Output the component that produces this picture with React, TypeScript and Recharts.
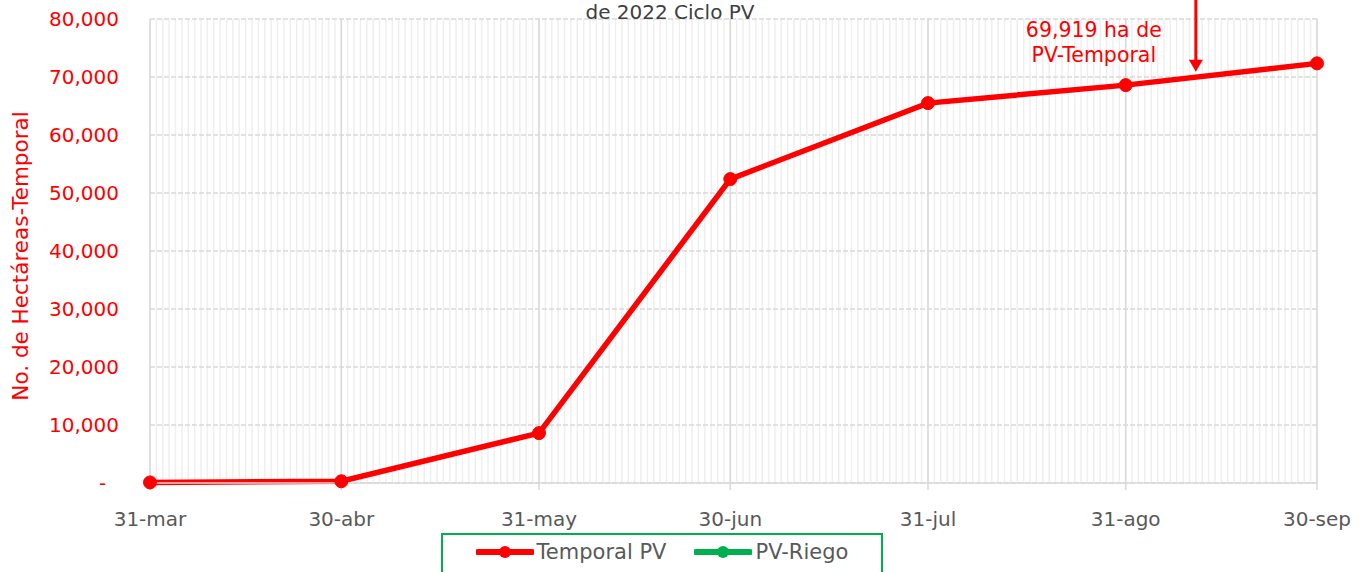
import {
    LineChart,
    Line,
    XAxis,
    YAxis,
    CartesianGrid,
    Legend,
    ReferenceLine,
} from 'recharts';

// días desde el 31-mar
const days = [0, 30, 61, 91, 122, 153, 183];
const dayLabels = ['31-mar', '30-abr', '31-may', '30-jun', '31-jul', '31-ago', '30-sep'];
const temporalPV = [100, 300, 8600, 52400, 65500, 68600, 72350];
const riegoPV: (number | null)[] = [null, null, null, null, null, null, null];
const seriesNames = ['Temporal PV', 'PV-Riego'];
const yTicks = [0, 10000, 20000, 30000, 40000, 50000, 60000, 70000, 80000];

const arrowDay = 164;
const arrowTop = 83300;
const arrowTip = 70900;

const FONT = '"DejaVu Sans", sans-serif';
const RED = '#ff0000';
const GREEN = '#00b050';
const GRAY_TEXT = '#595959';

document.body.style.margin = '0';

const chartData = days.map((d, i) => ({
    day: d,
    temporal: temporalPV[i],
    riego: riegoPV[i],
}));

const minorDays = Array.from({length: days[days.length - 1] + 1}, (_, i) => i);

const labelFor = (v: number) => {
    const idx = days.indexOf(v);
    return idx >= 0 ? dayLabels[idx] : '';
};

const fmtY = (v: number) => (v === 0 ? '-\u00a0\u00a0' : v.toLocaleString('en-US'));

interface ArrowProps {
    x1?: number;
    y1?: number;
    x2?: number;
    y2?: number;
}

const ArrowShape = ({x1 = 0, y1 = 0, y2 = 0}: ArrowProps) => {
    const top = Math.max(Math.min(y1, y2), 0);
    const tip = Math.max(y1, y2);
    const x = x1;
    return (
        <g>
            <line x1={x} y1={top} x2={x} y2={tip - 8} stroke={RED} strokeWidth={3}/>
            <polygon points={`${x - 7},${tip - 12} ${x + 7},${tip - 12} ${x},${tip}`} fill={RED}/>
            <text x={x - 102} y={37} textAnchor="middle" fill={RED} fontSize={20.5} fontFamily={FONT}>
                69,919 ha de
            </text>
            <text x={x - 102} y={62} textAnchor="middle" fill={RED} fontSize={20.5} fontFamily={FONT}>
                PV-Temporal
            </text>
        </g>
    );
};

interface LegendItem {
    value?: string;
    color?: string;
}

const LegendBox = ({payload}: { payload?: LegendItem[] }) => {
    const items = [...(payload ?? [])].sort(
        (a, b) => seriesNames.indexOf(a.value ?? '') - seriesNames.indexOf(b.value ?? '')
    );
    return (
        <div style={{height: 39, overflow: 'hidden'}}>
            <div
                style={{
                    width: 438,
                    height: 50,
                    border: `2px solid ${GREEN}`,
                    boxSizing: 'content-box',
                    display: 'flex',
                    alignItems: 'flex-start',
                    justifyContent: 'center',
                    gap: 28,
                    paddingTop: 5,
                    fontFamily: FONT,
                    fontSize: 21,
                    color: GRAY_TEXT,
                }}
            >
                {items.map((p) => (
                    <div key={p.value} style={{display: 'flex', alignItems: 'center'}}>
                        <svg width={58} height={14} style={{marginRight: 3}}>
                            <line x1={2} y1={7} x2={56} y2={7} stroke={p.color} strokeWidth={6} strokeLinecap="round"/>
                            <circle cx={29} cy={7} r={6} fill={p.color}/>
                        </svg>
                        <span>{p.value}</span>
                    </div>
                ))}
            </div>
        </div>
    );
};

export default function App() {
    return (
        <div style={{width: 1365, height: 572, position: 'relative', background: '#fff'}}>
            <div
                style={{
                    position: 'absolute',
                    left: 0,
                    width: 1340,
                    top: 0,
                    textAlign: 'center',
                    fontFamily: FONT,
                    fontSize: 20,
                    color: '#404040',
                    zIndex: 2,
                }}
            >
                de 2022 Ciclo PV
            </div>
            <LineChart
                width={1365}
                height={572}
                data={chartData}
                margin={{top: 19, right: 48, left: 0, bottom: 0}}
            >
                <CartesianGrid
                    horizontal={false}
                    verticalValues={minorDays}
                    stroke="#efefef"
                    strokeWidth={1.5}
                />
                <CartesianGrid
                    vertical={false}
                    horizontalValues={yTicks}
                    stroke="#d9d9d9"
                    strokeDasharray="5 2"
                    strokeWidth={1.5}
                />
                <CartesianGrid
                    horizontal={false}
                    verticalValues={days}
                    stroke="#d9d9d9"
                    strokeWidth={1.5}
                />
                <XAxis
                    dataKey="day"
                    type="number"
                    domain={[0, days[days.length - 1]]}
                    ticks={days}
                    tickFormatter={labelFor}
                    height={50}
                    axisLine={{stroke: '#d9d9d9', strokeWidth: 1.5}}
                    tickLine={{stroke: '#d9d9d9', strokeWidth: 1.5}}
                    tickSize={7}
                    tickMargin={22}
                    tick={{fontSize: 20, fill: GRAY_TEXT, fontFamily: FONT}}
                    interval={0}
                />
                <YAxis
                    type="number"
                    domain={[0, 80000]}
                    ticks={yTicks}
                    tickFormatter={fmtY}
                    width={150}
                    axisLine={false}
                    tickLine={false}
                    tickSize={6}
                    tickMargin={25}
                    tick={{fontSize: 20, fill: RED, fontFamily: FONT}}
                    interval={0}
                    label={{
                        value: 'No. de Hectáreas-Temporal',
                        angle: -90,
                        position: 'center',
                        dx: -55,
                        dy: 5,
                        fill: RED,
                        fontSize: 21.5,
                        fontFamily: FONT,
                    }}
                />
                <ReferenceLine
                    segment={[{x: arrowDay, y: arrowTop}, {x: arrowDay, y: arrowTip}]}
                    ifOverflow="visible"
                    shape={(props: ArrowProps) => <ArrowShape {...props}/>}
                />
                <Line
                    type="linear"
                    dataKey="temporal"
                    name="Temporal PV"
                    stroke={RED}
                    strokeWidth={5.5}
                    dot={{r: 6.5, fill: RED, stroke: RED, strokeWidth: 1}}
                    activeDot={false}
                    isAnimationActive={false}
                />
                <Line
                    type="linear"
                    dataKey="riego"
                    name="PV-Riego"
                    stroke={GREEN}
                    strokeWidth={5.5}
                    dot={{r: 6.5, fill: GREEN, stroke: GREEN}}
                    activeDot={false}
                    isAnimationActive={false}
                />
                <Legend
                    verticalAlign="bottom"
                    align="center"
                    height={39}
                    wrapperStyle={{left: 441, top: 533, width: 442}}
                    content={<LegendBox/>}
                />
            </LineChart>
        </div>
    );
}
